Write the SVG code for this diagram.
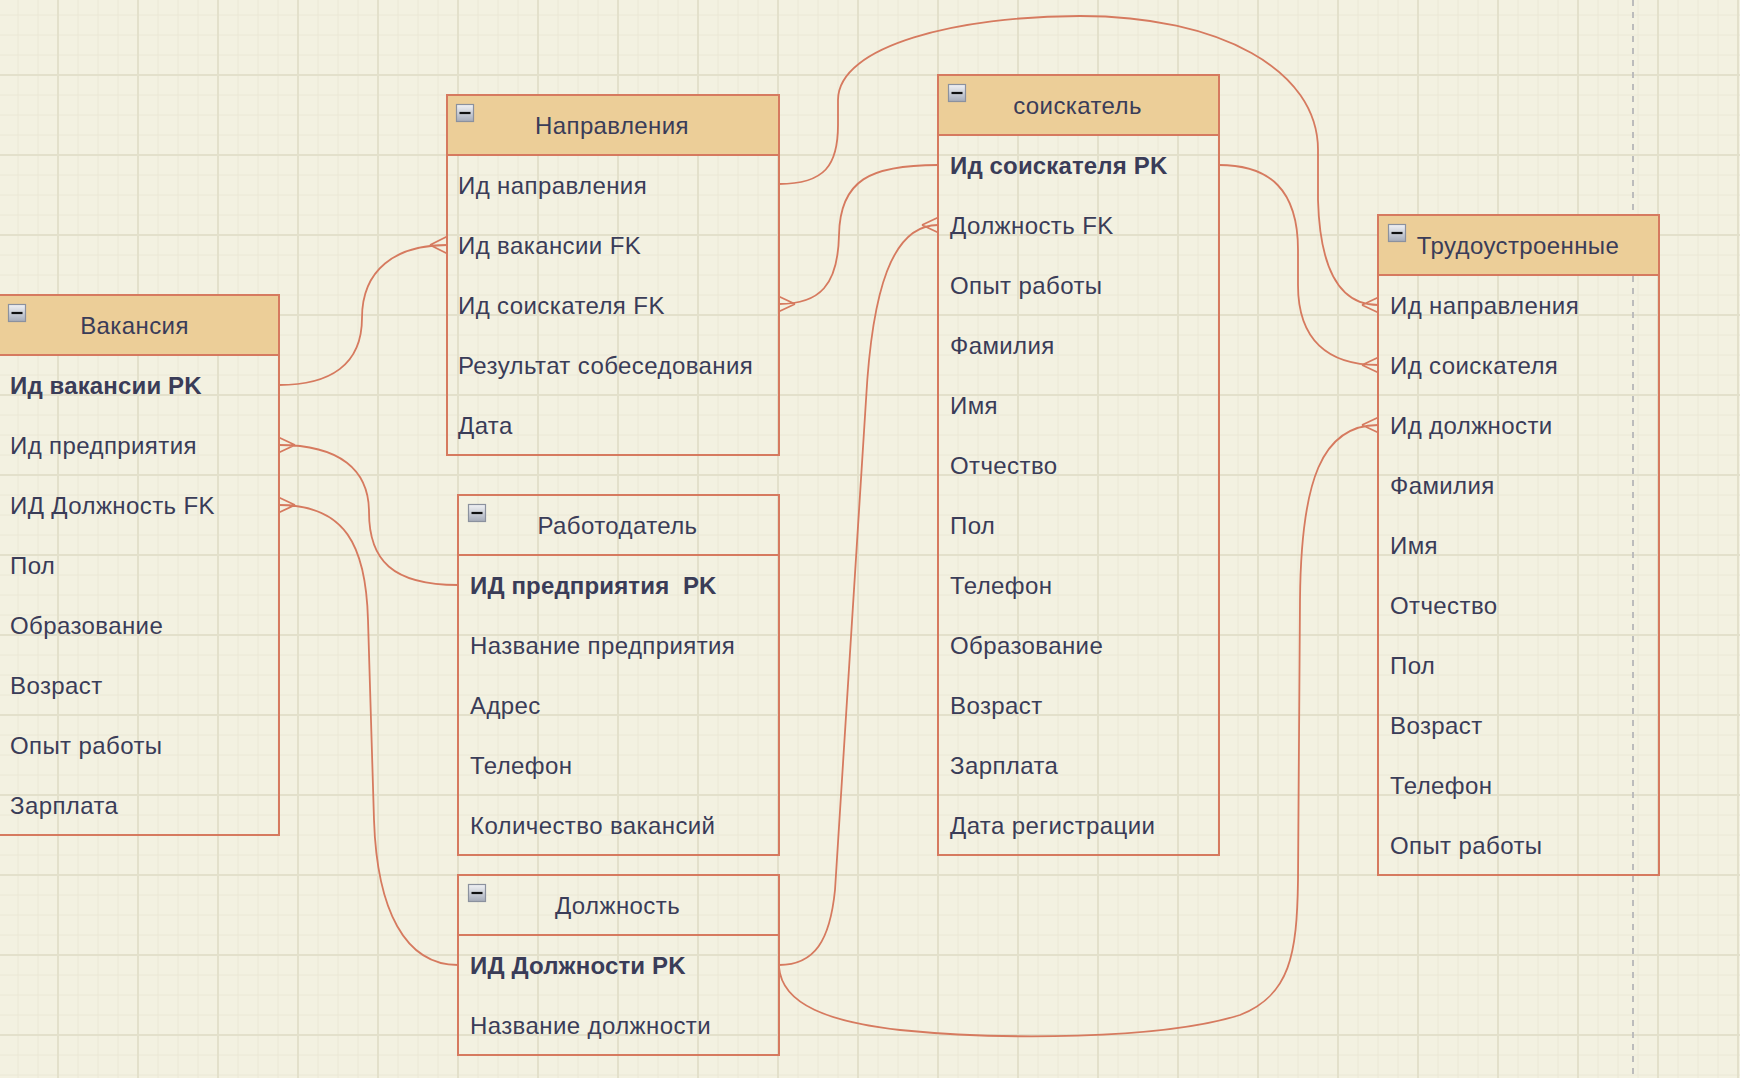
<svg xmlns="http://www.w3.org/2000/svg" width="1740" height="1078" viewBox="0 0 1740 1078">
<defs>
<pattern id="minor" x="8" y="5" width="20" height="20" patternUnits="userSpaceOnUse">
<path d="M10,0 V20 M0,10 H20" stroke="#ebe8d6" stroke-width="1" fill="none"/>
</pattern>
<pattern id="major" x="18" y="35" width="80" height="80" patternUnits="userSpaceOnUse">
<path d="M40,0 V80 M0,40 H80" stroke="#e3e0cb" stroke-width="2" fill="none"/>
</pattern>
<linearGradient id="ig" x1="0" y1="0" x2="0" y2="1">
<stop offset="0" stop-color="#f2f3f6"/>
<stop offset="1" stop-color="#a5abb8"/>
</linearGradient>
<g id="icon">
<rect x="0.5" y="0.5" width="17" height="17" fill="url(#ig)" stroke="#8b919e" stroke-width="1.2"/>
<path d="M3.5,9 H14.5" stroke="#111" stroke-width="2.2"/>
</g>
</defs>
<style>
.box{fill:none;stroke:#d67a5f;stroke-width:2}
.hdr{fill:#ecce98;stroke:#d67a5f;stroke-width:2}
.sep{stroke:#d67a5f;stroke-width:2}
.t{font-family:"Liberation Sans",Arial,sans-serif;font-size:24px;letter-spacing:0.4px;fill:#3a3c58}
.b{font-weight:bold;letter-spacing:0.15px}
.h{text-anchor:middle}
.c{fill:none;stroke:#d67a5f;stroke-width:1.8}
</style>
<rect width="1740" height="1078" fill="#f3f1e1"/>
<rect width="1740" height="1078" fill="url(#minor)"/>
<rect width="1740" height="1078" fill="url(#major)"/>
<path d="M1633,0 V1078" stroke="#bcbcbc" stroke-width="2" stroke-dasharray="6,6"/>

<g id="connectors">
<path class="c" d="M279,385 C330,385 362,365 362,318 C362,270 395,245 447,245 M430,245 L447,236.5 M430,245 L447,253.5"/>
<path class="c" d="M279,445 C340,445 369,470 369,512 C369,560 392,585 458,585 M295,445 L279,437.5 M295,445 L279,452.5"/>
<path class="c" d="M279,505 C345,505 366,545 368,620 L374,820 C377,910 405,965 458,965 M295,505 L279,497.5 M295,505 L279,512.5"/>
<path class="c" d="M779,184 C825,184 838,165 838,125 L838,100 C838,45 960,16 1080,16 C1220,16 1318,70 1318,150 L1318,200 C1320,270 1340,305 1378,305 M1362,305 L1378,297.5 M1362,305 L1378,312.5"/>
<path class="c" d="M938,165 C870,165 840,180 839,235 C838,285 820,304 779,304 M795,304 L779,296.5 M795,304 L779,311.5"/>
<path class="c" d="M1219,165 C1270,165 1298,190 1298,250 L1298,285 C1298,340 1328,365 1378,365 M1362,365 L1378,357.5 M1362,365 L1378,372.5"/>
<path class="c" d="M779,965 C815,965 830,940 835,890 L866,400 C872,290 892,225 938,225 M922,225 L938,217.5 M922,225 L938,232.5"/>
<path class="c" d="M779,967 C782,1005 830,1022 900,1030 C1000,1040 1160,1040 1240,1015 C1290,995 1297,955 1298,880 L1300,600 C1301,480 1322,425 1378,425 M1362,425 L1378,417.5 M1362,425 L1378,432.5"/>
</g>

<g id="vakansiya">
<rect class="hdr" x="-6" y="295" width="285" height="60"/>
<rect class="box" x="-6" y="295" width="285" height="540"/>
<use href="#icon" x="8" y="304"/>
<text class="t h" x="134.5" y="334">Вакансия</text>
<text class="t b" x="10" y="394">Ид вакансии PK</text>
<text class="t" x="10" y="454">Ид предприятия</text>
<text class="t" x="10" y="514">ИД Должность FK</text>
<text class="t" x="10" y="574">Пол</text>
<text class="t" x="10" y="634">Образование</text>
<text class="t" x="10" y="694">Возраст</text>
<text class="t" x="10" y="754">Опыт работы</text>
<text class="t" x="10" y="814">Зарплата</text>
</g>

<g id="napravleniya">
<rect class="hdr" x="447" y="95" width="332" height="60"/>
<rect class="box" x="447" y="95" width="332" height="360"/>
<use href="#icon" x="456" y="104"/>
<text class="t h" x="612" y="134">Направления</text>
<text class="t" x="458" y="194">Ид направления</text>
<text class="t" x="458" y="254">Ид вакансии FK</text>
<text class="t" x="458" y="314">Ид соискателя FK</text>
<text class="t" x="458" y="374">Результат собеседования</text>
<text class="t" x="458" y="434">Дата</text>
</g>

<g id="rabotodatel">
<rect class="box" x="458" y="495" width="321" height="360"/>
<path class="sep" d="M458,555 H779"/>
<use href="#icon" x="468" y="504"/>
<text class="t h" x="617.5" y="534">Работодатель</text>
<text class="t b" x="470" y="594" xml:space="preserve">ИД предприятия  PK</text>
<text class="t" x="470" y="654">Название предприятия</text>
<text class="t" x="470" y="714">Адрес</text>
<text class="t" x="470" y="774">Телефон</text>
<text class="t" x="470" y="834">Количество вакансий</text>
</g>

<g id="dolzhnost">
<rect class="box" x="458" y="875" width="321" height="180"/>
<path class="sep" d="M458,935 H779"/>
<use href="#icon" x="468" y="884"/>
<text class="t h" x="617.5" y="914">Должность</text>
<text class="t b" x="470" y="974">ИД Должности PK</text>
<text class="t" x="470" y="1034">Название должности</text>
</g>

<g id="soiskatel">
<rect class="hdr" x="938" y="75" width="281" height="60"/>
<rect class="box" x="938" y="75" width="281" height="780"/>
<use href="#icon" x="948" y="84"/>
<text class="t h" x="1077.5" y="114">соискатель</text>
<text class="t b" x="950" y="174">Ид соискателя PK</text>
<text class="t" x="950" y="234">Должность FK</text>
<text class="t" x="950" y="294">Опыт работы</text>
<text class="t" x="950" y="354">Фамилия</text>
<text class="t" x="950" y="414">Имя</text>
<text class="t" x="950" y="474">Отчество</text>
<text class="t" x="950" y="534">Пол</text>
<text class="t" x="950" y="594">Телефон</text>
<text class="t" x="950" y="654">Образование</text>
<text class="t" x="950" y="714">Возраст</text>
<text class="t" x="950" y="774">Зарплата</text>
<text class="t" x="950" y="834">Дата регистрации</text>
</g>

<g id="trudoustroennye">
<rect class="hdr" x="1378" y="215" width="281" height="60"/>
<rect class="box" x="1378" y="215" width="281" height="660"/>
<use href="#icon" x="1388" y="224"/>
<text class="t h" x="1518" y="254">Трудоустроенные</text>
<text class="t" x="1390" y="314">Ид направления</text>
<text class="t" x="1390" y="374">Ид соискателя</text>
<text class="t" x="1390" y="434">Ид должности</text>
<text class="t" x="1390" y="494">Фамилия</text>
<text class="t" x="1390" y="554">Имя</text>
<text class="t" x="1390" y="614">Отчество</text>
<text class="t" x="1390" y="674">Пол</text>
<text class="t" x="1390" y="734">Возраст</text>
<text class="t" x="1390" y="794">Телефон</text>
<text class="t" x="1390" y="854">Опыт работы</text>
</g>
</svg>
